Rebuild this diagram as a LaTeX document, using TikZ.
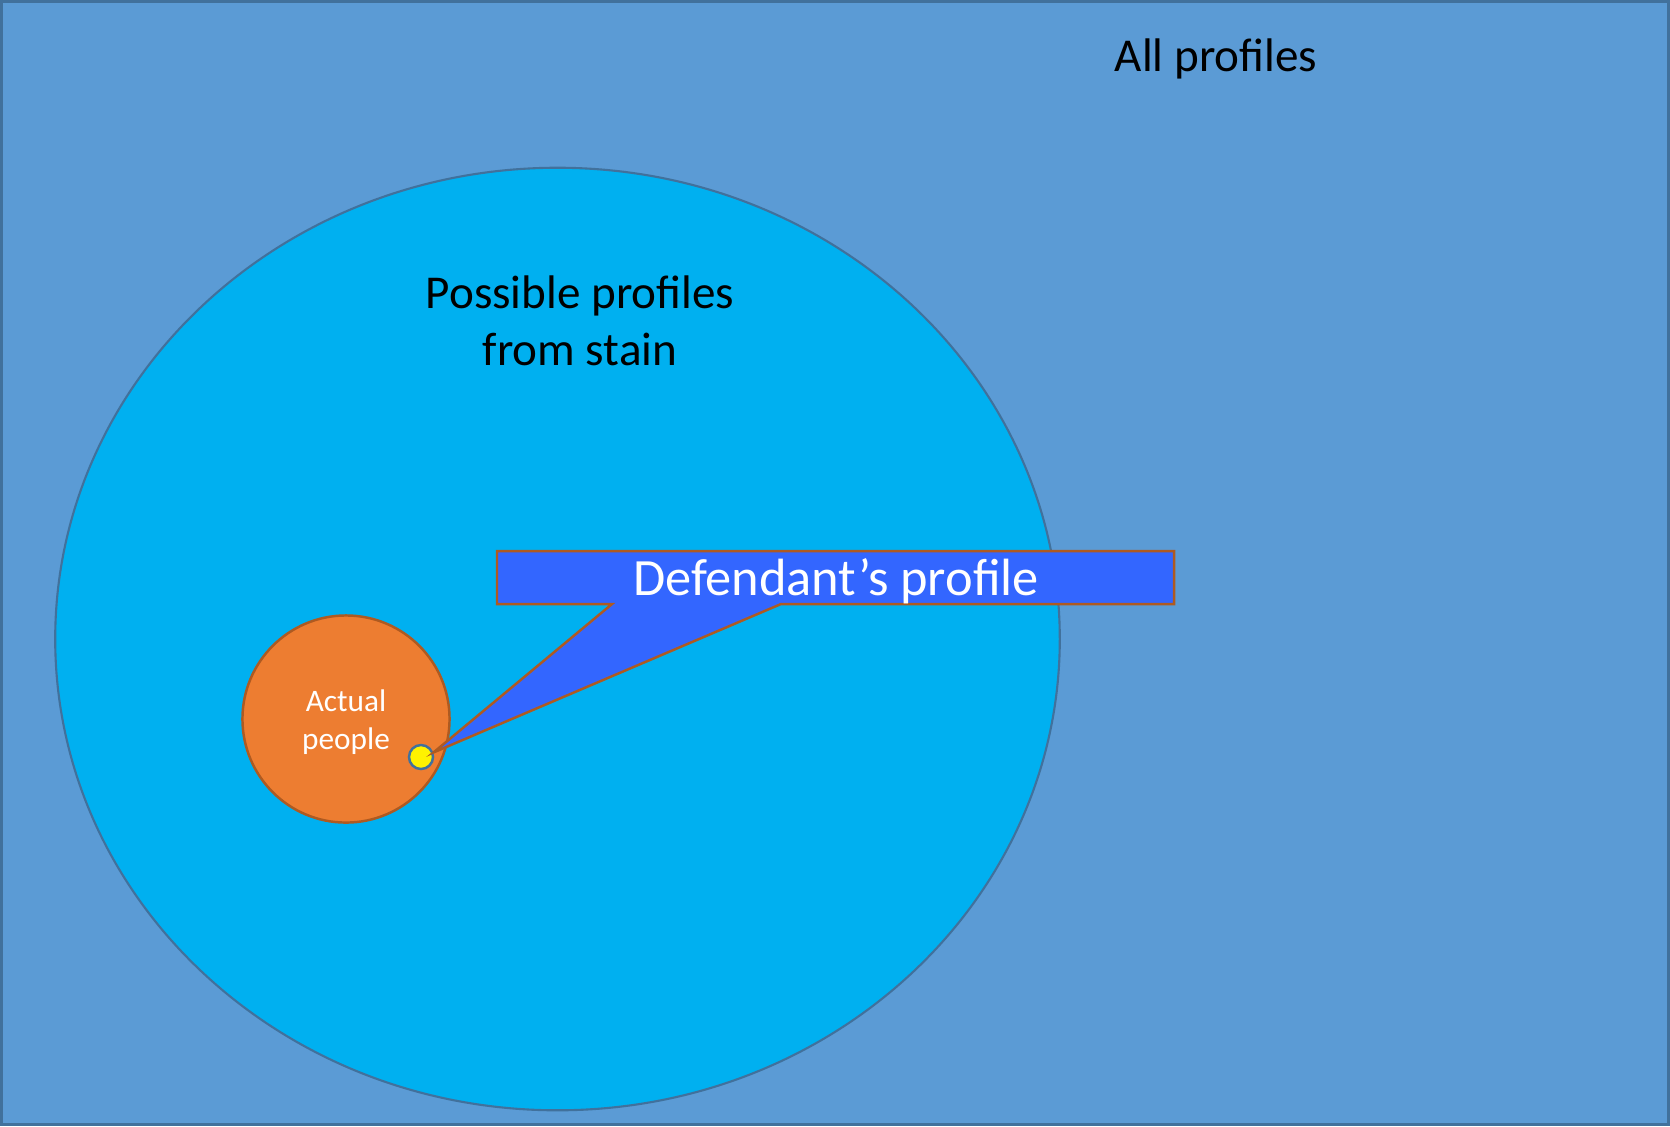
\documentclass[tikz,border=0pt]{standalone}
\usepackage{fontspec}
\setmainfont{Carlito}
\usetikzlibrary{shapes.geometric}
\definecolor{allfill}{HTML}{5B9BD5}
\definecolor{allline}{HTML}{41719C}
\definecolor{stainfill}{HTML}{00B0F0}
\definecolor{peoplefill}{HTML}{ED7D31}
\definecolor{peopleline}{HTML}{AE5A21}
\definecolor{calloutfill}{HTML}{3366FF}
\tikzset{
  label text/.style={font=\fontsize{13.4}{16}\selectfont, text=black, align=center},
  set line/.style={draw=allline, line width=0.6pt},
}
\begin{document}
\begin{tikzpicture}[x=0.01cm, y=-0.01cm]
  \useasboundingbox (0,0) rectangle (1670,1126);
  % universe of all profiles
  \fill[allfill] (0,0) rectangle (1670,1126);
  \draw[allline, line width=0.9pt] (1.5,1.5) rectangle (1668.5,1124.5);
  \node[label text] (all) at (1216,59) {All profiles};

  % profiles compatible with the stain
  \node[ellipse, set line, fill=stainfill, minimum width=10.04cm,
        minimum height=9.42cm, inner sep=0pt] (stain) at (557.5,639) {};
  \node[label text] (stainlabel) at (580,321)
    {Possible profiles\\[0.2pt]from stain};

  % people who actually exist
  \node[circle, draw=peopleline, line width=0.7pt, fill=peoplefill,
        minimum size=2.07cm, inner sep=0pt] (people) at (346,719) {};
  \node[font=\fontsize{8.9}{10.6}\selectfont, text=white, align=center]
    (peoplelabel) at (346,722) {Actual\\people};

  % the defendant's profile
  \node[circle, draw=allline, line width=0.7pt, fill=yellow,
        minimum size=0.24cm, inner sep=0pt] (dot) at (421,757) {};

  % callout box with pointer to the defendant
  \coordinate (tip) at (dot.20);
  \draw[peopleline, line width=0.7pt, fill=calloutfill, line join=miter]
    (497,551) -- (1174,551) -- (1174,604) -- (781,604) -- (tip)
    -- (612,604) -- (497,604) -- cycle;
  \node[font=\fontsize{14.9}{18}\selectfont, text=white] (def) at (836,581)
    {Defendant’s profile};
\end{tikzpicture}
\end{document}
